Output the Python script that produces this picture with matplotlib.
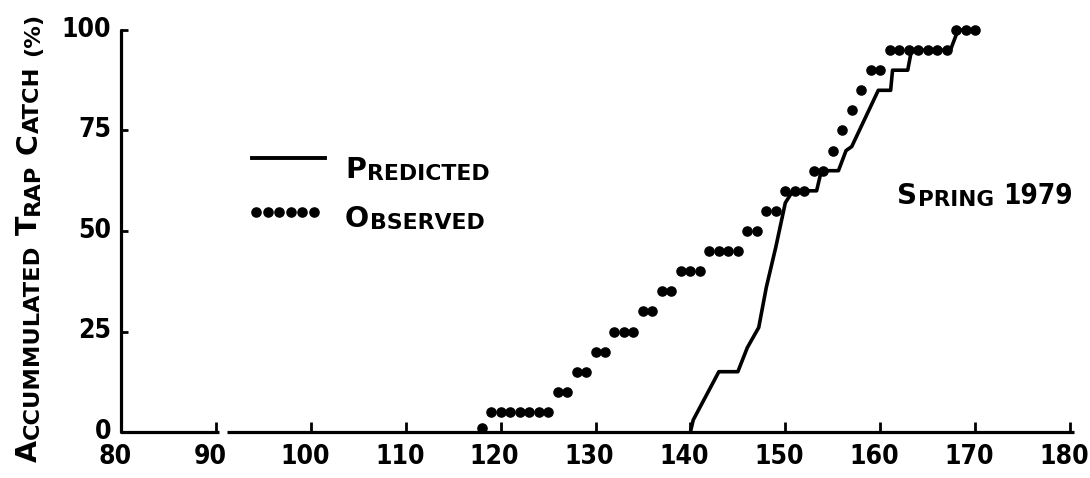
import matplotlib
matplotlib.use("Agg")
import matplotlib.pyplot as plt
import matplotlib.transforms as mtransforms
import numpy as np

# ---- data ----
obs_day = [118,
           119, 120, 121, 122, 123, 124, 125,
           126, 127,
           128, 129,
           130, 131,
           132, 133, 134,
           135, 136,
           137, 138,
           139, 140, 141,
           142, 143, 144, 145,
           146, 147,
           148, 149,
           150, 151, 152,
           153, 154,
           155,
           156,
           157,
           158,
           159, 160,
           161, 162, 163, 164, 165, 166, 167,
           168, 169, 170]
obs_val = [1,
           5, 5, 5, 5, 5, 5, 5,
           10, 10,
           15, 15,
           20, 20,
           25, 25, 25,
           30, 30,
           35, 35,
           40, 40, 40,
           45, 45, 45, 45,
           50, 50,
           55, 55,
           60, 60, 60,
           65, 65,
           70,
           75,
           80,
           85,
           90, 90,
           95, 95, 95, 95, 95, 95, 95,
           100, 100, 100]

pred_day = [140, 140.3, 143, 145, 146, 147.2, 148, 149, 150, 150.8, 153.3, 153.8,
            155.6, 156.4, 157, 158, 159.8, 161.1, 161.3, 162.9, 163.3, 167.4, 168.2, 170]
pred_val = [0, 3, 15, 15, 21, 26, 36, 46, 57, 60, 60, 65,
            65, 70, 71, 76, 85, 85, 90, 90, 95, 95, 100, 100]

x_ticks = [80, 90, 100, 110, 120, 130, 140, 150, 160, 170, 180]
y_ticks = [0, 25, 50, 75, 100]
axis_break = (90.3, 91.2)   # gap in the x axis line

ylabel_text = "Accummulated Trap Catch (%)"
pred_label = "Predicted"
obs_label = "Observed"
season_text = "Spring 1979"

# ---- figure ----
FONT = "DejaVu Sans"
plt.rcParams['font.family'] = [FONT]
fig = plt.figure(figsize=(10.9, 4.78), dpi=100)
ax = fig.add_axes([121 / 1090, 46 / 478, (1070 - 121) / 1090, (432 - 30) / 478])

ax.plot(pred_day, pred_val, color="black", lw=2.6, solid_joinstyle="round",
        solid_capstyle="round", clip_on=False, zorder=3)
ax.plot(obs_day, obs_val, linestyle="none", marker="o", ms=6.6, color="black",
        clip_on=False, zorder=4)

ax.set_xlim(80, 180)
ax.set_ylim(0, 100)
for s in ["top", "right", "bottom"]:
    ax.spines[s].set_visible(False)
ax.spines["left"].set_linewidth(2.3)
ax.spines["left"].set_capstyle("round")

# x axis line with a break
ax.plot([x_ticks[0], axis_break[0]], [0, 0], color="black", lw=2.3, clip_on=False,
        solid_capstyle="butt", zorder=2)
ax.plot([axis_break[1], x_ticks[-1] + 0.4], [0, 0], color="black", lw=2.3, clip_on=False,
        solid_capstyle="butt", zorder=2)

ax.set_xticks(x_ticks)
ax.set_yticks(y_ticks)
ax.tick_params(axis="x", direction="in", length=7, width=2.0, pad=9,
               labelsize=19)
ax.tick_params(axis="y", direction="in", length=5, width=2.0, pad=7,
               labelsize=19)
x_shift = mtransforms.ScaledTranslation(-6 / 100, 0, fig.dpi_scale_trans)
y_shift = mtransforms.ScaledTranslation(0, 3 / 100, fig.dpi_scale_trans)
for lab in ax.get_xticklabels():
    lab.set_fontweight("bold")
    lab.set_fontstretch("condensed")
    lab.set_transform(lab.get_transform() + x_shift)
for lab in ax.get_yticklabels():
    lab.set_fontweight("bold")
    lab.set_fontstretch("condensed")
    lab.set_transform(lab.get_transform() + y_shift)


def small_caps(x, y, text, big, small, rotation=0, gap=6, transform=None):
    parts = []
    for word in text.split():
        if word[0].isalpha():
            parts.append([(word[0].upper(), big, "normal"),
                          (word[1:].upper(), small, "normal")])
        elif word[0].isdigit():
            parts.append([(word, big, "condensed")])
        else:
            parts.append([(word, small, "normal")])
    prev = None
    for wi, word in enumerate(parts):
        for pi, (s, size, stretch) in enumerate(word):
            if not s:
                continue
            g = gap if (pi == 0 and wi > 0) else 0.5
            kw = dict(fontsize=size, fontweight="bold", fontstretch=stretch,
                      color="black")
            if prev is None:
                if rotation:
                    prev = fig.text(x, y, s, rotation=90, ha="right", va="bottom",
                                    transform=transform, **kw)
                else:
                    prev = fig.text(x, y, s, ha="left", va="bottom",
                                    transform=transform, **kw)
            else:
                if rotation:
                    prev = ax.annotate(s, xy=(1, 1), xycoords=prev, xytext=(0, g),
                                       textcoords="offset points", rotation=90,
                                       ha="right", va="bottom", **kw)
                else:
                    prev = ax.annotate(s, xy=(1, 0), xycoords=prev, xytext=(g, 0),
                                       textcoords="offset points",
                                       ha="left", va="bottom", **kw)


small_caps(43 / 1090, 16 / 478, ylabel_text, 20.5, 16.2, rotation=90, gap=7,
           transform=fig.transFigure)
small_caps(345 / 1090, (478 - 184) / 478, pred_label, 20.5, 15.8,
           transform=fig.transFigure)
small_caps(345 / 1090, (478 - 233) / 478, obs_label, 20.5, 15.8,
           transform=fig.transFigure)
small_caps(897 / 1090, (478 - 210) / 478, season_text, 20, 15.5, gap=7,
           transform=fig.transFigure)

# legend samples
fig.add_artist(plt.Line2D([252 / 1090, 325 / 1090], [(478 - 158) / 478] * 2,
                          color="black", lw=2.8, transform=fig.transFigure))
lx = np.linspace(256 / 1090, 314 / 1090, 6)
fig.add_artist(plt.Line2D(lx, [(478 - 212) / 478] * len(lx), linestyle="none",
                          marker="o", ms=6.6, color="black",
                          transform=fig.transFigure))

fig.savefig("out.png", dpi=100)
